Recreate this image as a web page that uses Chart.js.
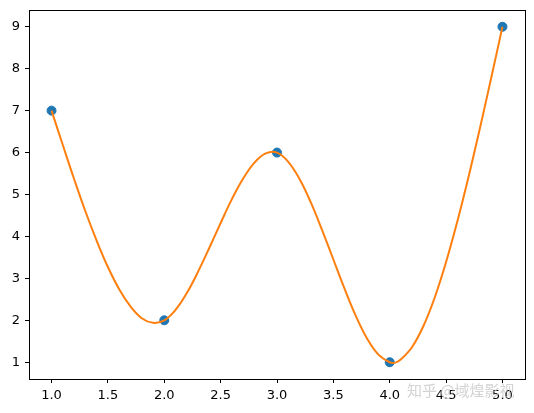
<!DOCTYPE html>
<html>
<head>
<meta charset="utf-8">
<script src="https://cdn.jsdelivr.net/npm/chart.js@4/dist/chart.umd.min.js"></script>
<style>
  html, body { margin: 0; padding: 0; background: #fff; }
  #wrap { width: 534px; height: 413px; position: relative; }
</style>
</head>
<body>
<div id="wrap"><canvas id="c" width="534" height="413"></canvas></div>
<script>
// Data points (scatter)
const pointX = [1, 2, 3, 4, 5];
const pointY = [7, 2, 6, 1, 9];

// Smooth orange curve, values at steps of 0.1
const curveX = [1.0,1.1,1.2,1.3,1.4,1.5,1.6,1.7,1.8,1.9,
                2.0,2.1,2.2,2.3,2.4,2.5,2.6,2.7,2.8,2.9,
                3.0,3.1,3.2,3.3,3.4,3.5,3.6,3.7,3.8,3.9,
                4.0,4.05,4.1,4.2,4.3,4.4,4.5,4.6,4.7,4.8,4.9,5.0];
const curveY = [7.00,6.18,5.37,4.60,3.90,3.27,2.74,2.33,2.05,1.94,
                2.00,2.25,2.65,3.16,3.73,4.32,4.89,5.38,5.76,5.98,
                6.00,5.78,5.37,4.81,4.15,3.45,2.75,2.10,1.56,1.18,
                1.00,0.99,1.07,1.37,1.87,2.55,3.39,4.36,5.43,6.58,7.78,9.00];

// Tick labels
const xTicks = [1.0, 1.5, 2.0, 2.5, 3.0, 3.5, 4.0, 4.5, 5.0];
const yTicks = [1, 2, 3, 4, 5, 6, 7, 8, 9];

const watermark = '知乎 @域煌影视';

const FONT = { family: 'DejaVu Sans', size: 13 };

const framePlugin = {
  id: 'frame',
  afterDraw(chart) {
    const { ctx, chartArea: a } = chart;
    ctx.save();
    ctx.strokeStyle = '#000';
    ctx.lineWidth = 1;
    ctx.strokeRect(Math.round(a.left) + 0.5, Math.round(a.top) + 0.5,
                   Math.round(a.right - a.left), Math.round(a.bottom - a.top));
    ctx.font = '15px "Noto Sans CJK SC", sans-serif';
    ctx.fillStyle = 'rgba(200,200,200,0.8)';
    ctx.textBaseline = 'middle';
    ctx.textAlign = 'left';
    ctx.fillText(watermark, 407, 390);
    ctx.restore();
  }
};

new Chart(document.getElementById('c'), {
  type: 'scatter',
  data: {
    datasets: [
      {
        type: 'line',
        data: curveX.map((x, i) => ({ x, y: curveY[i] })),
        borderColor: '#ff7f0e',
        borderWidth: 2,
        pointRadius: 0,
        tension: 0.4,
        fill: false,
        order: 0
      },
      {
        type: 'scatter',
        data: pointX.map((x, i) => ({ x, y: pointY[i] })),
        backgroundColor: '#1f77b4',
        borderColor: '#1f77b4',
        pointRadius: 4.5,
        order: 1
      }
    ]
  },
  options: {
    responsive: false,
    animation: false,
    layout: { padding: { left: 0, right: 9, top: 10, bottom: 0 } },
    plugins: { legend: { display: false }, tooltip: { enabled: false } },
    scales: {
      x: {
        type: 'linear',
        min: 0.8, max: 5.2,
        afterBuildTicks: s => { s.ticks = xTicks.map(v => ({ value: v })); },
        afterFit: s => { s.height = 34; s.paddingLeft = 0; s.paddingRight = 0; },
        grid: { display: true, drawOnChartArea: false, drawTicks: true, tickLength: 4, color: '#000' },
        border: { display: true, color: '#000' },
        ticks: { color: '#000', font: FONT, padding: 5, maxRotation: 0,
                 callback: v => Number(v).toFixed(1) }
      },
      y: {
        type: 'linear',
        min: 0.6, max: 9.4,
        afterBuildTicks: s => { s.ticks = yTicks.map(v => ({ value: v })); },
        afterFit: s => { s.width = 29; s.paddingTop = 0; s.paddingBottom = 0; },
        grid: { display: true, drawOnChartArea: false, drawTicks: true, tickLength: 4, color: '#000' },
        border: { display: true, color: '#000' },
        ticks: { color: '#000', font: FONT, padding: 5,
                 callback: v => String(v) }
      }
    }
  },
  plugins: [framePlugin]
});
</script>
</body>
</html>
